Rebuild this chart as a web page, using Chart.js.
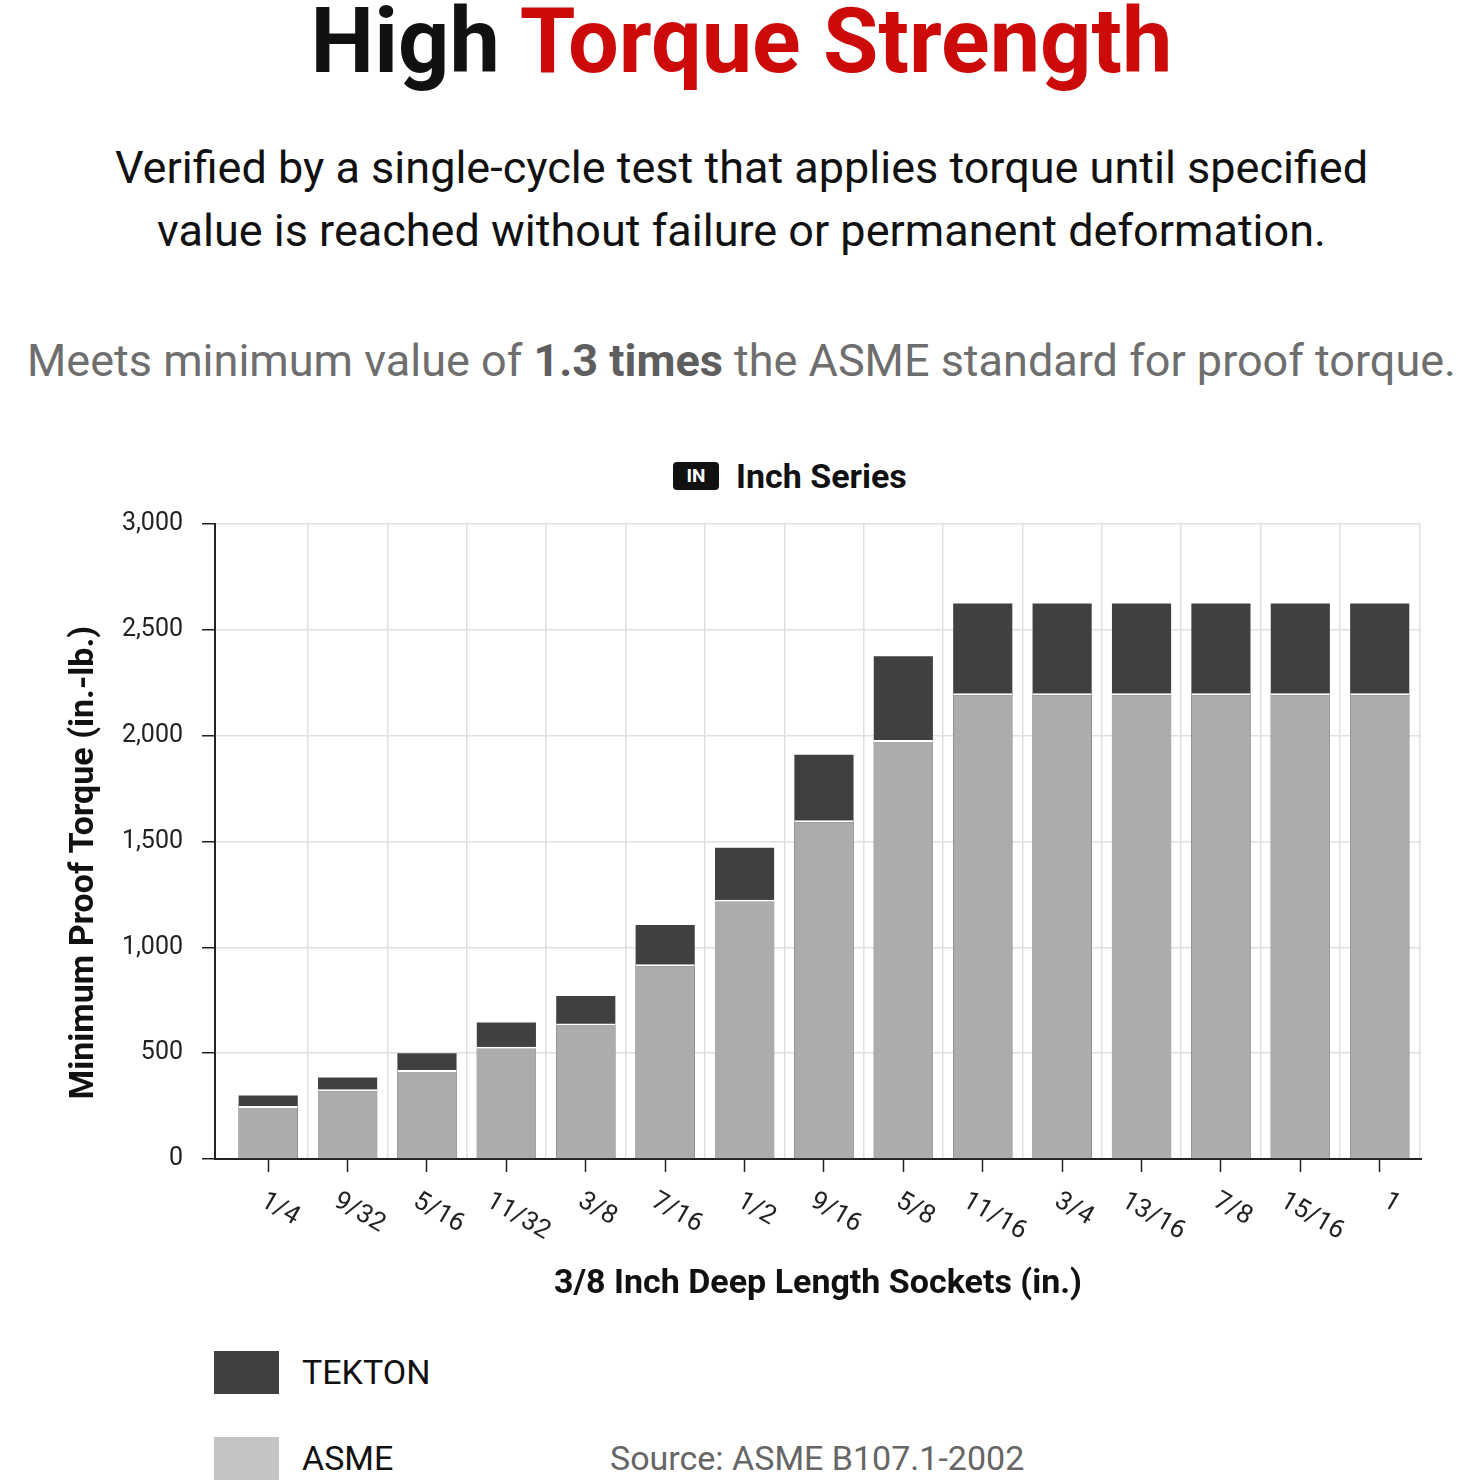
<!DOCTYPE html>
<html>
<head>
<meta charset="utf-8">
<script src="https://cdn.jsdelivr.net/npm/chart.js@4.4.1/dist/chart.umd.min.js"></script>
<style>
  html, body { margin: 0; padding: 0; background: #fff; }
  body { width: 1483px; height: 1483px; position: relative; overflow: hidden; font-family: Roboto, sans-serif; }
  .abs { position: absolute; }
  .center { left: 0; width: 1483px; text-align: center; white-space: nowrap; }
  #title { top: -3px; font-size: 90px; font-weight: 700; line-height: 89px; color: #111; }
  #title span { color: #cc0a0a; }
  #sub { top: 136px; font-size: 45px; line-height: 63px; color: #111; }
  #meets { top: 336px; font-size: 45px; line-height: 50px; color: #6e6e6e; }
  #meets b { color: #5e5e5e; }
  #series { top: 456px; left: 673px; height: 40px; display: flex; align-items: center; }
  #series .badge { background: #111; color: #fff; font-weight: 700; font-size: 19px; width: 46px; height: 28px; line-height: 28px; text-align: center; border-radius: 4px; }
  #series .name { margin-left: 17px; font-size: 34px; font-weight: 700; color: #111; }
  #wrap { left: 0; top: 490px; width: 1483px; height: 835px; }
  .lg { left: 214px; width: 65px; height: 43px; }
  .lgt { left: 302px; font-size: 34px; line-height: 43px; color: #111; }
  #source { left: 610px; top: 1437px; font-size: 34px; line-height: 43px; color: #666; }
</style>
</head>
<body>
<div id="title" class="abs center">High <span>Torque Strength</span></div>
<div id="sub" class="abs center">Verified by a single-cycle test that applies torque until specified<br>value is reached without failure or permanent deformation.</div>
<div id="meets" class="abs center">Meets minimum value of <b>1.3 times</b> the ASME standard for proof torque.</div>
<div id="series" class="abs"><div class="badge">IN</div><div class="name">Inch Series</div></div>
<div id="wrap" class="abs"><canvas id="torqueChart"></canvas></div>
<div class="abs lg" style="top:1351px;background:#404040"></div>
<div class="abs lgt" style="top:1351px">TEKTON</div>
<div class="abs lg" style="top:1437px;background:#c4c4c4"></div>
<div class="abs lgt" style="top:1437px">ASME</div>
<div id="source" class="abs">Source: ASME B107.1-2002</div>
<script>
// socket sizes (in.)
const sizes = ['1/4', '9/32', '5/16', '11/32', '3/8', '7/16', '1/2', '9/16', '5/8', '11/16', '3/4', '13/16', '7/8', '15/16', '1'];
// minimum proof torque (in.-lb.)
const tekton = [300, 385, 500, 645, 770, 1105, 1470, 1910, 2375, 2625, 2625, 2625, 2625, 2625, 2625];
const asme = [250, 330, 420, 530, 640, 920, 1225, 1600, 1980, 2200, 2200, 2200, 2200, 2200, 2200];
const yTicks = [0, 500, 1000, 1500, 2000, 2500, 3000];

const xMin = -0.67, xMax = 14.52;
const toPoints = arr => arr.map((v, i) => ({ x: i, y: v }));

// x labels are tilted clockwise, which chart.js can't do itself
const tiltedLabels = {
  id: 'tiltedLabels',
  afterDraw(chart) {
    const { ctx } = chart;
    const x = chart.scales.x;
    const ang = Math.PI / 6;
    const capH = 26 * 0.71;
    ctx.save();
    ctx.font = '26px Roboto';
    ctx.fillStyle = '#222';
    ctx.textAlign = 'center';
    ctx.textBaseline = 'alphabetic';
    sizes.forEach((lab, i) => {
      const w = ctx.measureText(lab).width;
      const px = x.getPixelForValue(i) + 13;
      const py = x.top + 30 + (w * Math.sin(ang) + capH * Math.cos(ang)) / 2;
      ctx.save();
      ctx.translate(px, py);
      ctx.rotate(ang);
      ctx.fillText(lab, 0, capH / 2);
      ctx.restore();
    });
    ctx.restore();
  }
};

Chart.defaults.font.family = 'Roboto';

new Chart(document.getElementById('torqueChart'), {
  type: 'bar',
  data: {
    datasets: [
      {
        label: 'ASME',
        data: toPoints(asme),
        backgroundColor: '#acacac',
        borderColor: '#ffffff',
        borderWidth: { top: 2, left: 0, right: 0, bottom: 0 },
        grouped: false,
        order: 1
      },
      {
        label: 'TEKTON',
        data: toPoints(tekton),
        backgroundColor: '#404040',
        borderWidth: 0,
        grouped: false,
        order: 2
      }
    ]
  },
  options: {
    responsive: true,
    maintainAspectRatio: false,
    animation: false,
    categoryPercentage: 1,
    barPercentage: 0.745,
    layout: { padding: { left: 50, right: 62, top: 22, bottom: 20 } },
    plugins: {
      legend: { display: false },
      tooltip: { enabled: false }
    },
    scales: {
      x: {
        type: 'linear',
        position: 'bottom',
        offset: false,
        min: xMin,
        max: xMax,
        ticks: { display: false, stepSize: 1, includeBounds: false },
        grid: { offset: false, drawOnChartArea: false, drawTicks: true, tickLength: 13, tickColor: '#222', tickWidth: 1.5 },
        border: { display: true, color: '#222', width: 2 },
        title: {
          display: true,
          text: '3/8 Inch Deep Length Sockets (in.)',
          color: '#111',
          font: { size: 34, weight: 'bold' },
          padding: { top: 0, bottom: 0 }
        },
        afterFit: s => { s.height = 146; }
      },
      x2: {
        type: 'linear',
        position: 'bottom',
        offset: false,
        min: xMin,
        max: xMax,
        ticks: { display: false, stepSize: 1, includeBounds: false },
        grid: {
          offset: true,
          drawTicks: false,
          lineWidth: 1.5,
          color: c => (c.index === 0 ? 'rgba(0,0,0,0)' : '#e0e0e0')
        },
        border: { display: false }
      },
      y: {
        min: 0,
        max: 3000,
        afterBuildTicks: s => { s.ticks = yTicks.map(v => ({ value: v })); },
        ticks: {
          color: '#222',
          padding: 19,
          font: { size: 25 },
          callback: v => v.toLocaleString('en-US')
        },
        grid: { color: '#e0e0e0', lineWidth: 1.5, tickLength: 13, tickColor: '#222', tickWidth: 1.5 },
        border: { color: '#222', width: 2 },
        title: {
          display: true,
          text: 'Minimum Proof Torque (in.-lb.)     ',
          color: '#111',
          font: { size: 34, weight: 'bold' },
          padding: { top: 14, bottom: 0 }
        },
        afterFit: s => { s.width = 165; }
      }
    }
  },
  plugins: [tiltedLabels]
});
</script>
</body>
</html>
